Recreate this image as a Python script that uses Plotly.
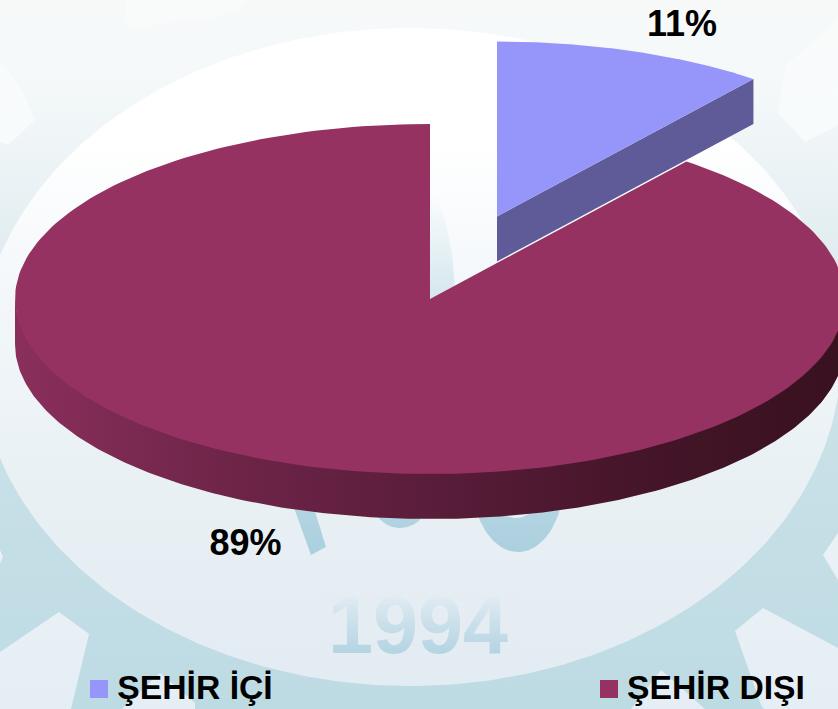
import math
import plotly.graph_objects as go

# ---- chart data ----
categories = ["ŞEHİR İÇİ", "ŞEHİR DIŞI"]
shares = [10.6, 89.4]
share_labels = ["11%", "89%"]
slice_colors = ["#9696fa", "#963262"]
wall_color_small = "#5e5b98"
wall_stops_main = ["#8a2f5c", "#6f2548", "#5a1d3a", "#451529", "#38111f"]

W, H = 838, 709

# ---- 3D pie projection ----
RX, RY, DEPTH = 415, 175, 45
MAIN_C = (430, 299)
SMALL_C = (497, 216.5)


def ell(c, deg, dy=0):
    t = math.radians(deg)
    return c[0] + RX * math.sin(t), c[1] - RY * math.cos(t) + dy


def arc(c, a0, a1, dy=0, n=240):
    pts = [ell(c, a0 + (a1 - a0) * i / n, dy) for i in range(n + 1)]
    return [p[0] for p in pts], [p[1] for p in pts]


fig = go.Figure()


def poly(xs, ys, color=None, grad=None, vertical=True):
    kw = dict(x=xs, y=ys, mode="lines", fill="toself", line=dict(width=0), hoverinfo="skip", showlegend=False)
    if grad is not None:
        start, stop, stops = grad
        kw["fillgradient"] = dict(
            type="vertical" if vertical else "horizontal",
            start=start,
            stop=stop,
            colorscale=[[s[0], s[1]] for s in stops],
        )
    else:
        kw["fillcolor"] = color
    fig.add_trace(go.Scatter(**kw))


def oval(cx, cy, rx, ry, a0=0, a1=360, n=72):
    xs = [cx + rx * math.cos(math.radians(a0 + (a1 - a0) * i / n)) for i in range(n + 1)]
    ys = [cy + ry * math.sin(math.radians(a0 + (a1 - a0) * i / n)) for i in range(n + 1)]
    return xs, ys


# ---- background (gear emblem) ----
ring_grad = (0, H, [[0, "#f7f9f9"], [0.1, "#f5f9fa"], [0.2, "#eff5f7"], [0.3, "#e6f0f3"], [0.42, "#dbe9ee"],
                    [0.63, "#c9e0e7"], [1, "#bddbe3"]])
gap_grad = (0, H, [[0, "#f9fbfb"], [0.25, "#f8fbfc"], [0.6, "#eef4f7"], [1, "#e5eef5"]])
disc_grad = (0, H, [[0, "#ffffff"], [0.2, "#ffffff"], [0.42, "#f3f7fa"], [0.7, "#e8f0f4"], [1, "#e3ebf3"]])

poly([0, W, W, 0, 0], [0, 0, H, H, 0], grad=ring_grad)

gaps = [
    [(0, 652), (59, 612), (89, 634), (71, 709), (0, 709)],
    [(122, 709), (160, 673), (195, 703), (195, 709)],
    [(631, 709), (661, 670), (705, 709)],
    [(763, 608), (735, 631), (761, 705), (764, 709), (838, 709), (838, 648)],
    [(838, 533), (823, 555), (838, 580)],
    [(0, 550), (3, 557), (0, 563)],
    [(0, 142), (8, 145), (35, 120), (22, 90), (0, 60)],
    [(125, 0), (128, 30), (190, 18), (210, 20), (245, 6), (248, 0)],
    [(838, 125), (805, 142), (778, 113), (786, 65), (838, 20)],
]
gx, gy = [], []
for g in gaps:
    gx += [p[0] for p in g] + [g[0][0], None]
    gy += [p[1] for p in g] + [g[0][1], None]
poly(gx, gy, grad=gap_grad)

DISC_C = (410, 357)
dx, dy = oval(DISC_C[0], DISC_C[1], 431, 329, n=360)
poly(dx, dy, grad=disc_grad)

# large emblem letters, mostly hidden behind the pie
letter_grad = (140, 560, [[0, "#ffffff"], [0.1, "#ffffff"], [0.35, "#d8e9ef"], [1, "#abcfde"]])
mx, my = oval(400, 500, 28, 28, 0, 180)
ox, oy = oval(518, 480, 46, 72, -10, 190)
hx, hy = oval(380, 300, 75, 160, -90, 0, n=30)
lx = [293, 311, 326, 313, 293, None] + mx + [mx[0], None] + ox + [ox[0], None] + [430] + hx + [455, 430, 430]
ly = [505, 555, 547, 505, 505, None] + my + [my[0], None] + oy + [oy[0], None] + [140] + hy + [292, 300, 140]
poly(lx, ly, grad=letter_grad)
ix, iy = oval(516, 505, 17, 13)
poly(ix, iy, color="#e8f0f4")

# "1994" watermark, faded towards the top by strips placed above it
fig.add_trace(go.Scatter(x=[418], y=[633], mode="text", text=["<b>1994</b>"], textposition="middle center",
                         textfont=dict(family="Liberation Sans", size=81, color="#b4d4e3"),
                         hoverinfo="skip", showlegend=False))
shapes = []
strips = 30
for i in range(strips):
    y0 = 596 + i * 2
    a = max(0.0, 1 - (i / (strips - 1)) ** 0.9) * 0.92
    shapes.append(dict(type="rect", x0=320, x1=520, y0=y0, y1=y0 + 2, layer="above", line=dict(width=0),
                       fillcolor=f"rgba(229,237,243,{a:.3f})"))

# ---- pie slices ----
a_small = shares[0] / sum(shares) * 360

# small slice: wall of the cut edge, then top face
sx, sy = ell(SMALL_C, a_small)
poly([SMALL_C[0], sx, sx, SMALL_C[0], SMALL_C[0]],
     [SMALL_C[1], sy, sy + DEPTH, SMALL_C[1] + DEPTH, SMALL_C[1]], color=wall_color_small)
ax, ay = arc(SMALL_C, 0, a_small)
poly([SMALL_C[0]] + ax + [SMALL_C[0]], [SMALL_C[1]] + ay + [SMALL_C[1]], color=slice_colors[0])

# main slice: front wall, then top face
tx, ty = arc(MAIN_C, 90, 270, dy=-3)
bx, by = arc(MAIN_C, 270, 90, dy=DEPTH)
wall_scale = [[i / (len(wall_stops_main) - 1), c] for i, c in enumerate(wall_stops_main)]
poly(tx + bx + [tx[0]], ty + by + [ty[0]], grad=(15, 845, wall_scale), vertical=False)
ax, ay = arc(MAIN_C, a_small, 360)
poly([MAIN_C[0]] + ax + [MAIN_C[0]], [MAIN_C[1]] + ay + [MAIN_C[1]], color=slice_colors[1])

# ---- value labels ----
fig.add_trace(go.Scatter(x=[682, 245.5], y=[26.5, 545.5], mode="text", text=[f"<b>{s}</b>" for s in share_labels],
                         textposition="middle center",
                         textfont=dict(family="Liberation Sans", size=36, color="#000000"),
                         hoverinfo="skip", showlegend=False))

# ---- legend ----
fig.add_trace(go.Scatter(x=[99, 609], y=[689, 689], mode="markers",
                         marker=dict(symbol="square", size=18, color=slice_colors, line=dict(width=0)),
                         hoverinfo="skip", showlegend=False))
fig.add_trace(go.Scatter(x=[195, 716], y=[690.5, 690.5], mode="text", text=[f"<b>{c}</b>" for c in categories],
                         textposition="middle center",
                         textfont=dict(family="Liberation Sans", size=33.7, color="#000000"),
                         hoverinfo="skip", showlegend=False))

fig.update_layout(
    width=W, height=H, margin=dict(l=0, r=0, t=0, b=0),
    paper_bgcolor="#f4f8fa", plot_bgcolor="#f4f8fa", showlegend=False, shapes=shapes,
    xaxis=dict(range=[0, W], visible=False, fixedrange=True),
    yaxis=dict(range=[H, 0], visible=False, fixedrange=True),
)
fig.write_html("out.html", config={"displayModeBar": False},
               post_script="document.body.style.margin='0';document.documentElement.style.overflow='hidden';")
